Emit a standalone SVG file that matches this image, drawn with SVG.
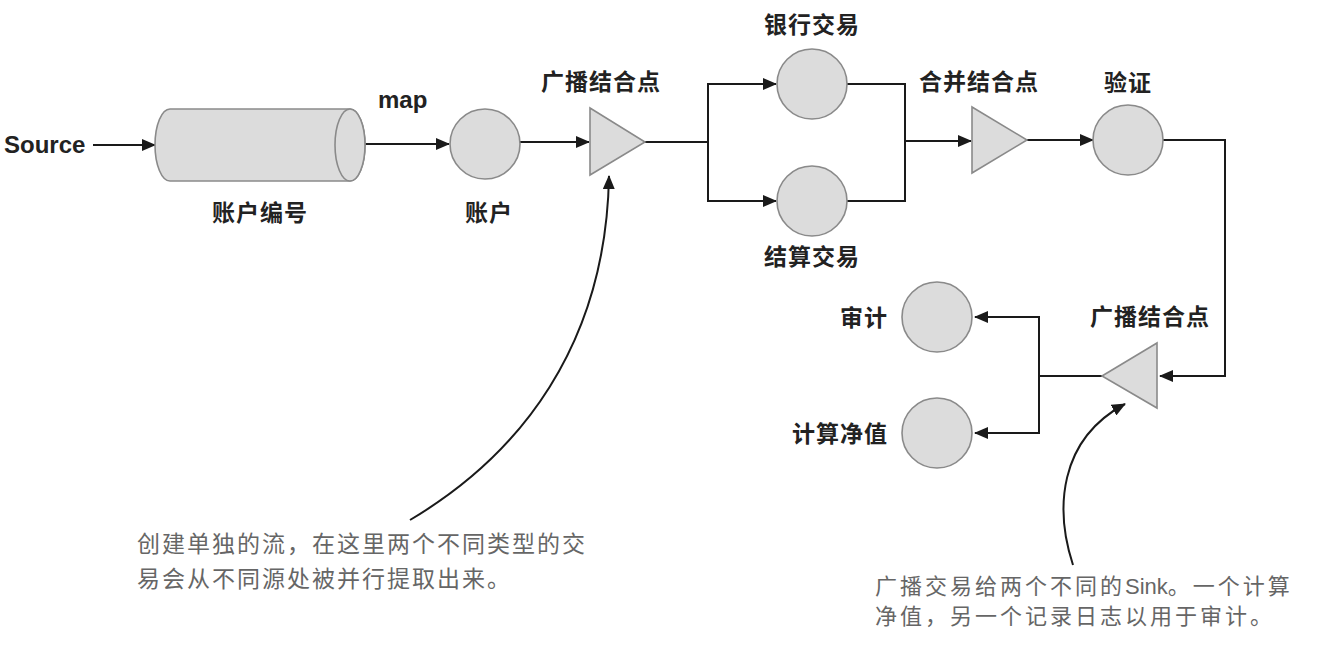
<svg xmlns="http://www.w3.org/2000/svg" width="1323" height="666" viewBox="0 0 1323 666">
<style>
.shape{fill:#dcdcdc;stroke:#8a8a8a;stroke-width:1.6}
.lbl{font-family:"Noto Sans CJK SC","Liberation Sans",sans-serif;font-size:23px;font-weight:600;fill:#222;letter-spacing:1px}
.en{font-family:"Liberation Sans","Noto Sans",sans-serif;font-size:24px;font-weight:bold;fill:#222}
.note{font-family:"Noto Sans CJK SC","Liberation Sans",sans-serif;font-size:23px;fill:#666;letter-spacing:2px}
.note2{font-family:"Noto Sans CJK SC","Liberation Sans",sans-serif;font-size:22px;fill:#666;letter-spacing:3px}
.lat{font-family:"Liberation Sans",sans-serif;letter-spacing:0}
.ln{fill:none;stroke:#1a1a1a;stroke-width:2}
</style>
<defs>
<marker id="ah" markerUnits="userSpaceOnUse" markerWidth="14" markerHeight="12" refX="13" refY="6" orient="auto">
<path d="M0,0 L14,6 L0,12 Z" fill="#1a1a1a"/>
</marker>
</defs>
<rect width="1323" height="666" fill="#fff"/>

<g id="connectors">
<line class="ln" x1="93" y1="145" x2="155" y2="145" marker-end="url(#ah)"/>
<line class="ln" x1="364" y1="144" x2="449" y2="144" marker-end="url(#ah)"/>
<line class="ln" x1="520" y1="142" x2="589" y2="142" marker-end="url(#ah)"/>
<polyline class="ln" points="645,142 708,142"/>
<polyline class="ln" points="708,142 708,84 776,84" marker-end="url(#ah)"/>
<polyline class="ln" points="708,142 708,201 776,201" marker-end="url(#ah)"/>
<polyline class="ln" points="847,84 905,84 905,201 847,201"/>
<line class="ln" x1="905" y1="141" x2="971" y2="141" marker-end="url(#ah)"/>
<line class="ln" x1="1027" y1="140" x2="1093" y2="140" marker-end="url(#ah)"/>
<polyline class="ln" points="1163,140 1225,140 1225,376 1160,376" marker-end="url(#ah)"/>
<polyline class="ln" points="1102,376 1039,376"/>
<polyline class="ln" points="1039,376 1039,317 975,317" marker-end="url(#ah)"/>
<polyline class="ln" points="1039,376 1039,433 975,433" marker-end="url(#ah)"/>
<path class="ln" d="M410,520 C520,455 606,345 609,176" marker-end="url(#ah)"/>
<path class="ln" d="M1073,565 C1055,510 1058,440 1125,404" marker-end="url(#ah)"/>
</g>

<g id="source"><text class="en" x="4" y="153">Source</text></g>

<g id="cylinder">
<path class="shape" d="M170,109 L350,109 A15,36 0 0 1 350,181 L170,181 A15,36 0 0 1 170,109 Z"/>
<ellipse class="shape" cx="350" cy="145" rx="15" ry="36"/>
<text class="lbl" x="260" y="221" text-anchor="middle">账户编号</text>
</g>

<g id="map-label"><text class="en" x="378" y="108">map</text></g>

<g id="account">
<circle class="shape" cx="485" cy="144" r="35"/>
<text class="lbl" x="489" y="221" text-anchor="middle">账户</text>
</g>

<g id="broadcast1">
<polygon class="shape" points="590,108 645,142 590,175"/>
<text class="lbl" x="601" y="90" text-anchor="middle">广播结合点</text>
</g>

<g id="bank">
<circle class="shape" cx="812" cy="84" r="35"/>
<text class="lbl" x="812" y="33" text-anchor="middle">银行交易</text>
</g>

<g id="settle">
<circle class="shape" cx="812" cy="201" r="35"/>
<text class="lbl" x="812" y="265" text-anchor="middle">结算交易</text>
</g>

<g id="merge">
<polygon class="shape" points="972,107 1027,140 972,173"/>
<text class="lbl" x="979" y="90" text-anchor="middle">合并结合点</text>
</g>

<g id="validate">
<circle class="shape" cx="1128" cy="140" r="35"/>
<text class="lbl" x="1128" y="91" text-anchor="middle">验证</text>
</g>

<g id="broadcast2">
<polygon class="shape" points="1102,376 1157,343 1157,408"/>
<text class="lbl" x="1150" y="325" text-anchor="middle">广播结合点</text>
</g>

<g id="audit">
<circle class="shape" cx="937" cy="317" r="35"/>
<text class="lbl" x="888" y="326" text-anchor="end">审计</text>
</g>

<g id="networth">
<circle class="shape" cx="937" cy="433" r="35"/>
<text class="lbl" x="888" y="442" text-anchor="end">计算净值</text>
</g>

<g id="note1">
<text class="note" x="137" y="552">创建单独的流，在这里两个不同类型的交</text>
<text class="note" x="137" y="587">易会从不同源处被并行提取出来。</text>
</g>

<g id="note2">
<text class="note2" x="875" y="594">广播交易给两个不同的<tspan class="lat">Sink</tspan>。一个计算</text>
<text class="note2" x="875" y="624">净值，另一个记录日志以用于审计。</text>
</g>
</svg>
